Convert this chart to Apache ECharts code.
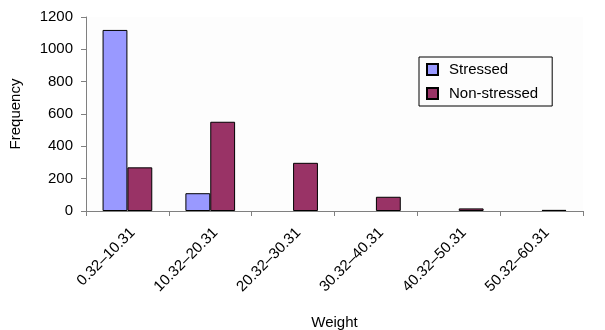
<!DOCTYPE html>
<html><head><meta charset="utf-8">
<script src="https://cdn.jsdelivr.net/npm/echarts@6/dist/echarts.min.js"></script>
<style>html,body{margin:0;padding:0;background:#fff}#c{width:605px;height:330px}</style>
</head><body><div id="c"></div>
<script>
var categories = ['0.32–10.31','10.32–20.31','20.32–30.31','30.32–40.31','40.32–50.31','50.32–60.31'];
var stressed = [1120, 110, 0, 0, 0, 0];
var nonStressed = [270, 552, 298, 88, 16, 7];
var yTicks = {min: 0, max: 1200, interval: 200};

function hideZero(arr) { return arr.map(function (v) { return v === 0 ? '-' : v; }); }

var chart = echarts.init(document.getElementById('c'));
var font = 'Liberation Sans, Arial, sans-serif';
chart.setOption({
  animation: false,
  backgroundColor: '#fff',
  textStyle: {fontFamily: font},
  grid: {left: 86, right: 22, top: 17, bottom: 119, containLabel: false, outerBoundsMode: 'none',
         backgroundColor: '#fdfdfd', show: true, borderWidth: 0},
  legend: {
    orient: 'vertical', left: 419, top: 57,
    borderColor: '#000', borderWidth: 1, padding: [5, 14, 5, 7],
    icon: 'rect', itemWidth: 11, itemHeight: 11, itemGap: 9,
    textStyle: {fontFamily: font, fontSize: 15, color: '#000', lineHeight: 15, padding: [0, 0, 0, 6]},
    data: ['Stressed', 'Non-stressed']
  },
  xAxis: {
    type: 'category', data: categories,
    name: 'Weight', nameLocation: 'middle', nameGap: 104,
    nameTextStyle: {fontFamily: font, fontSize: 15, color: '#000'},
    axisLine: {lineStyle: {color: '#808080', width: 1}},
    axisTick: {show: true, inside: false, length: 5, lineStyle: {color: '#808080'}},
    axisLabel: {rotate: 45, fontFamily: font, fontSize: 15, color: '#000', margin: 14, verticalAlign: 'top'}
  },
  yAxis: {
    type: 'value', min: yTicks.min, max: yTicks.max, interval: yTicks.interval,
    name: 'Frequency', nameLocation: 'middle', nameGap: 63, nameRotate: 90,
    nameTextStyle: {fontFamily: font, fontSize: 15, color: '#000'},
    axisLine: {show: true, lineStyle: {color: '#808080', width: 1}},
    axisTick: {show: true, length: 5, lineStyle: {color: '#808080'}},
    splitLine: {show: false},
    axisLabel: {fontFamily: font, fontSize: 15, color: '#000', margin: 13,
                formatter: function (v) { return String(v); }}
  },
  series: [
    {name: 'Stressed', type: 'bar', data: hideZero(stressed), barGap: '0%', barCategoryGap: '40%',
     itemStyle: {color: '#9999ff', borderColor: '#000', borderWidth: 1}},
    {name: 'Non-stressed', type: 'bar', data: hideZero(nonStressed),
     itemStyle: {color: '#993366', borderColor: '#000', borderWidth: 1}}
  ]
});
</script></body></html>
